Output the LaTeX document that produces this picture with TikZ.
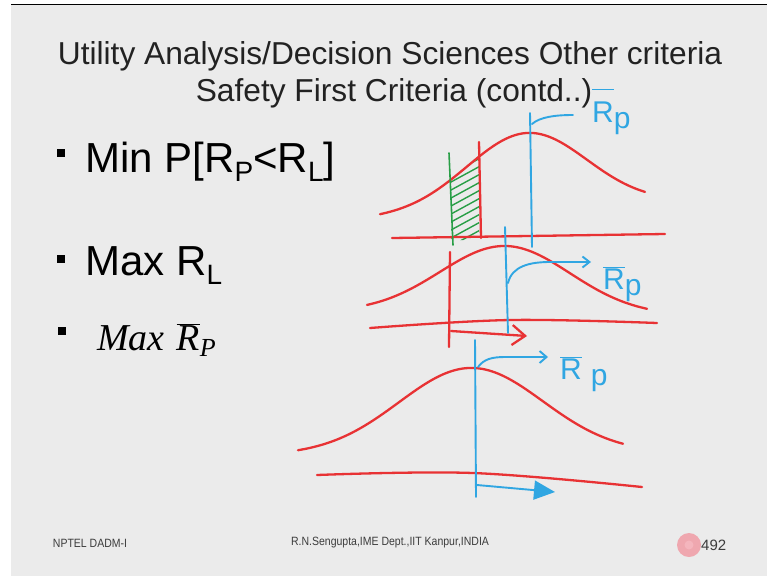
\documentclass[tikz,border=0pt]{standalone}
\usepackage{fontspec}
\setmainfont{Liberation Sans}
\newfontfamily\serifface{Liberation Serif}
\usetikzlibrary{arrows.meta}

\definecolor{slidebg}{RGB}{235,235,235}
\definecolor{titleink}{RGB}{34,34,34}
\definecolor{footink}{RGB}{60,60,60}
\definecolor{inkred}{RGB}{232,50,52}
\definecolor{inkblue}{RGB}{48,166,226}
\definecolor{inkgreen}{RGB}{40,158,70}
\definecolor{badge}{RGB}{240,150,160}

% barred R used by the handwritten labels
\newcommand\barR{$\overline{\hbox{R}}$}
\newcommand\highbarR{$\overline{\hbox{R\rule{0pt}{31pt}}}$}
\newcommand\lowsub[1]{\raisebox{-9pt}{\fontsize{28}{28}\selectfont #1}}

\tikzset{
  redink/.style={draw=inkred, line width=2.3pt, line cap=round, line join=round},
  blueink/.style={draw=inkblue, line width=1.9pt, line cap=round, line join=round},
  greenink/.style={draw=inkgreen, line width=1.6pt, line cap=round},
  titletext/.style={anchor=base, inner sep=0, text=titleink, font=\fontsize{31.7}{33}\selectfont},
  itemtext/.style={anchor=base west, inner sep=0, text=black, font=\fontsize{42}{44}\selectfont},
  bulletsq/.style={rectangle, fill=black, minimum size=8pt, inner sep=0},
  foottext/.style={inner sep=0, text=footink, font=\fontsize{12}{12}\selectfont},
  handlabel/.style={anchor=base west, inner sep=0, text=inkblue, font=\fontsize{30}{30}\selectfont},
  % bell curves over a slightly tilted base: tail(x) - A*exp(-((x-mu)/s)^2/2)
  declare function={
    bellone(\x)=218-15*(\x-380)/265 - 76.7*exp(-0.5*((\x-527)/60)^2);
    belltwo(\x)=312+3*(\x-367)/280 - 67.5*exp(-0.5*((\x-505)/65)^2);
    bellthree(\x)=455-2*(\x-298)/325 - 86*exp(-0.5*((\x-471)/72)^2);
  },
}

\begin{document}
\begin{tikzpicture}[x=1pt, y=-1pt]
\useasboundingbox (0,0) rectangle (767,576);
\fill[white] (0,0) rectangle (767,576);
\fill[slidebg] (11,5) rectangle (767,576);
\draw[black, line width=1.5pt] (11,4.5) -- (767,4.5);

% title
\node[titletext] (t1) at (390,64) {Utility Analysis/Decision Sciences Other criteria};
\node[titletext] (t2) at (394,101) {Safety First Criteria (contd..)};

% bullet list
\node[bulletsq] (b1) at (61,153) {};
\node[bulletsq] (b2) at (61,259) {};
\node[bulletsq] (b3) at (62,331) {};
\node[itemtext] (i1) at (85,172) {Min P[R\lowsub{P}<R\lowsub{L}]};
\node[itemtext] (i2) at (85,275) {Max R\lowsub{L}};
\node[anchor=base west, inner sep=0] (i3) at (97,350)
  {\serifface\itshape\fontsize{38}{40}\selectfont Max\hspace{12pt}$\overline{\hbox{\serifface\itshape R}}$\raisebox{-6pt}{\fontsize{26}{26}\selectfont P}};

% ---- first sketch: shortfall area below R_L ----
\begin{scope}
  \clip (451,240) -- plot[domain=451:479, samples=15] (\x, {bellone(\x)}) -- (479,240) -- cycle;
  \foreach \k in {0,...,13}
    \draw[greenink, line width=1.4pt] (440,252-8*\k) -- (495,252-8*\k-30);
\end{scope}
\draw[redink] plot[domain=380:645, samples=90, smooth] (\x, {bellone(\x)});
\draw[redink] (392,238) -- (665,234);
\draw[greenink] (449,153) -- (453,245);
\draw[redink] (479,142) -- (481,238);
\draw[blueink] (530,113) -- (532,247);
\coordinate (h1) at (532,124);
\coordinate (h1e) at (573,115);
\draw[blueink] (h1) .. controls (540,117) and (555,115) .. (h1e);
\node[handlabel] (l1) at (592,122) {\highbarR\raisebox{-6pt}{p}};

% ---- second sketch: raising R_L ----
\draw[redink] plot[domain=367:647, samples=90, smooth] (\x, {belltwo(\x)});
\draw[redink] plot[smooth, tension=0.6] coordinates {(370,328) (510,320) (657,323)};
\draw[redink] (450,252) -- (449,347);
\coordinate (r2a) at (451,331);
\coordinate (r2b) at (527,336);
\draw[redink, -{Straight Barb[length=13pt, width=20pt, line width=2.3pt]}] (r2a) -- (r2b);
\draw[blueink] (505,227) -- (508,333);
\coordinate (h2) at (508,283);
\coordinate (h2e) at (591,262);
\draw[blueink, -{Straight Barb[length=7pt, width=11pt, line width=1.9pt]}]
  (h2) .. controls (512,266) and (530,262) .. (550,262) -- (h2e);
\node[handlabel] (l2) at (603,289) {\barR\raisebox{-6pt}{p}};

% ---- third sketch: raising the mean ----
\draw[redink] plot[domain=298:623, samples=100, smooth] (\x, {bellthree(\x)});
\draw[redink] plot[smooth, tension=0.6] coordinates {(317,475) (473,473) (642,487)};
\draw[blueink] (475,340) -- (476,497);
\coordinate (h3) at (478,367);
\coordinate (h3e) at (548,357);
\draw[blueink, -{Straight Barb[length=7pt, width=12pt, line width=1.9pt]}]
  (h3) .. controls (484,359) and (492,357) .. (505,357) -- (h3e);
\node[handlabel] (l3) at (560,379) {\barR\hspace{9pt}\raisebox{-6pt}{p}};
\coordinate (a3) at (477,485);
\coordinate (a3e) at (555,492);
\draw[blueink, -{Triangle[length=21pt, width=19pt]}] (a3) -- (a3e);

% footer
\node[foottext] (f1) at (90,543) {\scalebox{0.875}[1]{NPTEL DADM-I}};
\node[foottext] (f2) at (390,543) {\scalebox{0.875}[1]{R.N.Sengupta,IME Dept.,IIT Kanpur,INDIA}};
\node[circle, fill=badge, opacity=0.8, minimum size=24pt, inner sep=0] (pg) at (689,545) {};
\node[circle, fill=badge!70!white, minimum size=9pt, inner sep=0] (pgin) at (689,545) {};
\node[anchor=west, inner sep=0, text=footink, font=\fontsize{15}{15}\selectfont] (f3) at (701,545) {492};
\end{tikzpicture}
\end{document}
